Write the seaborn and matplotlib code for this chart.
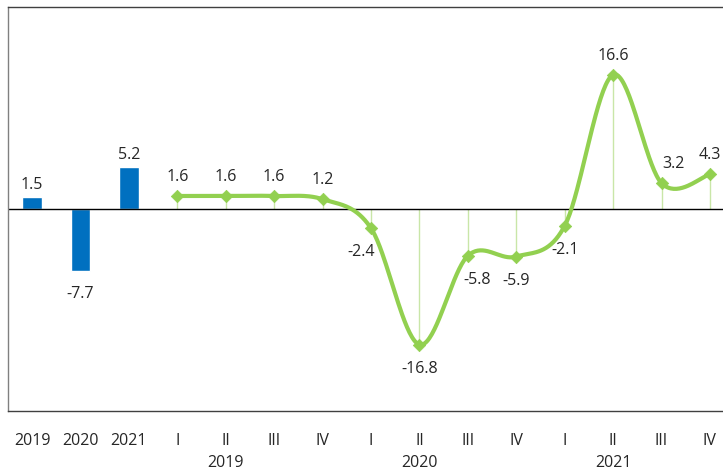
import numpy as np
import pandas as pd
import matplotlib
matplotlib.use('Agg')
import matplotlib.pyplot as plt
import seaborn as sns

# data
years = ['2019', '2020', '2021']
annual = [1.5, -7.7, 5.2]
quarters = ['I', 'II', 'III', 'IV'] * 3
quarterly = [1.6, 1.6, 1.6, 1.2, -2.4, -16.8, -5.8, -5.9, -2.1, 16.6, 3.2, 4.3]
tick_labels = years + quarters

sns.set_theme(style='white')
plt.rcParams['font.family'] = ['Open Sans', 'DejaVu Sans']

bar_col = '#0070C0'
line_col = '#92D050'
drop_col = '#C9E6A8'

fig = plt.figure(figsize=(7.23, 4.70), dpi=100)
ax = fig.add_axes([0.011, 0.126, 0.989, 0.859])

bar_x = np.arange(len(annual))
q_x = np.arange(len(quarterly)) + len(annual)

# annual bars
sns.barplot(x=bar_x, y=annual, native_scale=True, width=0.41, color=bar_col,
            saturation=1, ax=ax)

# smooth line through quarterly points (Catmull-Rom like Excel)
pts = np.column_stack([q_x, quarterly]).astype(float)
ext = np.vstack([pts[0], pts, pts[-1]])
sx, sy = [], []
for i in range(1, len(ext) - 2):
    p0, p1, p2, p3 = ext[i - 1], ext[i], ext[i + 1], ext[i + 2]
    c1 = p1 + (p2 - p0) / 6
    c2 = p2 - (p3 - p1) / 6
    t = np.linspace(0, 1, 40)[:, None]
    seg = ((1 - t) ** 3) * p1 + 3 * ((1 - t) ** 2) * t * c1 + 3 * (1 - t) * t ** 2 * c2 + t ** 3 * p2
    sx.extend(seg[:, 0]); sy.extend(seg[:, 1])
curve = pd.DataFrame({'x': sx, 'y': sy})

# drop lines
ax.vlines(q_x, 0, quarterly, color=drop_col, lw=1, zorder=2)
sns.lineplot(data=curve, x='x', y='y', sort=False, color=line_col, lw=3,
             ax=ax, zorder=3)
sns.scatterplot(x=q_x, y=quarterly, marker='D', s=40, color=line_col,
                edgecolor=line_col, ax=ax, zorder=4)

ax.axhline(0, color='black', lw=1, zorder=2.5)

# value labels
fs = 11.5
for x, v in zip(bar_x, annual):
    off = 0.5 if v > 0 else -1.8
    ax.text(x, v + off, f'{v:.1f}', ha='center', va='bottom' if v > 0 else 'top', fontsize=fs)

label_offsets = {4: (-0.2, -2.0), 6: (0.2, -2.0), 10: (0.25, 1.4), 11: (0.0, 1.4)}
for i, (x, v) in enumerate(zip(q_x, quarterly)):
    dx, dy = label_offsets.get(i, (0, 1.4 if v > 0 else -2.0))
    ax.text(x + dx, v + dy, f'{v:.1f}', ha='center',
            va='bottom' if dy > 0 else 'top', fontsize=fs)

ax.set_xlim(-0.5, 14.27)
ax.set_ylim(-25, 25)
ax.set_yticks([])
ax.set_xticks(np.arange(len(tick_labels)))
ax.set_xticklabels(tick_labels, fontsize=fs)
ax.tick_params(axis='x', length=0, pad=16)
ax.set_xlabel('')
ax.set_ylabel('')

for i, y in enumerate(years):
    ax.text(4 + 4 * i, -0.11, y, transform=ax.get_xaxis_transform(),
            ha='center', va='top', fontsize=fs)

for s in ['left', 'top', 'bottom']:
    ax.spines[s].set_visible(True)
    ax.spines[s].set_color('#404040')
    ax.spines[s].set_linewidth(1)
ax.spines['left'].set_color('#808080')
ax.spines['right'].set_visible(False)

fig.savefig('out.png', dpi=100)
